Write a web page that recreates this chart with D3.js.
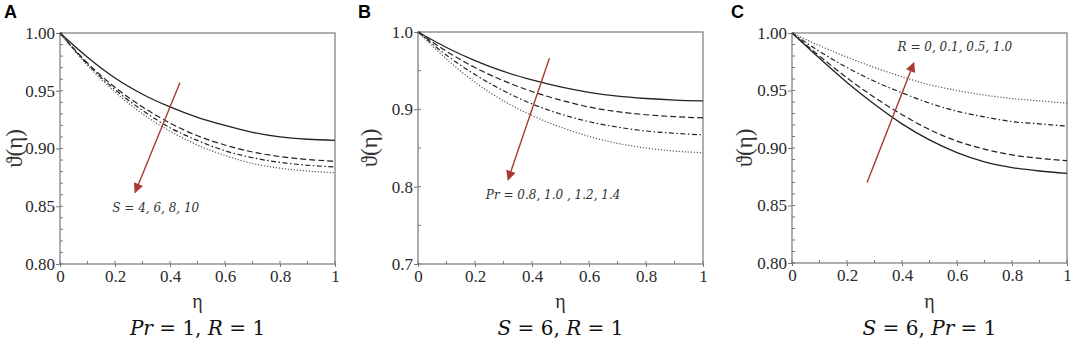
<!DOCTYPE html>
<html>
<head>
<meta charset="utf-8">
<script src="https://cdn.jsdelivr.net/npm/d3@7"></script>
<style>
  body { margin: 0; background: #fff; }
  svg { display: block; }
</style>
</head>
<body>
<svg id="chart" width="1072" height="340"></svg>
<script>
// eta grid shared by all panels
var eta = [0, 0.1, 0.2, 0.3, 0.4, 0.5, 0.6, 0.7, 0.8, 0.9, 1.0];

// panel A : S = 4, 6, 8, 10  (Pr = 1, R = 1)
var aS4  = [1, 0.979, 0.961, 0.947, 0.936, 0.927, 0.920, 0.914, 0.910, 0.908, 0.907];
var aS6  = [1, 0.974, 0.953, 0.936, 0.922, 0.911, 0.903, 0.897, 0.893, 0.8905, 0.889];
var aS8  = [1, 0.973, 0.951, 0.933, 0.918, 0.907, 0.898, 0.892, 0.888, 0.8855, 0.884];
var aS10 = [1, 0.972, 0.949, 0.930, 0.915, 0.903, 0.894, 0.887, 0.883, 0.8805, 0.879];

// panel B : Pr = 0.8, 1.0, 1.2, 1.4  (S = 6, R = 1)
var bPr08 = [1, 0.980, 0.963, 0.949, 0.938, 0.929, 0.922, 0.917, 0.914, 0.912, 0.911];
var bPr10 = [1, 0.975, 0.954, 0.937, 0.923, 0.912, 0.903, 0.897, 0.893, 0.8905, 0.889];
var bPr12 = [1, 0.970, 0.945, 0.924, 0.907, 0.894, 0.884, 0.877, 0.872, 0.869, 0.867];
var bPr14 = [1, 0.965, 0.935, 0.911, 0.892, 0.877, 0.865, 0.856, 0.850, 0.846, 0.844];

// panel C : R = 0, 0.1, 0.5, 1.0  (S = 6, Pr = 1)
var cR0  = [1, 0.978, 0.957, 0.938, 0.921, 0.907, 0.896, 0.888, 0.883, 0.880, 0.878];
var cR01 = [1, 0.980, 0.961, 0.944, 0.929, 0.916, 0.906, 0.899, 0.894, 0.891, 0.889];
var cR05 = [1, 0.984, 0.970, 0.958, 0.948, 0.939, 0.932, 0.927, 0.923, 0.921, 0.919];
var cR10 = [1, 0.989, 0.979, 0.970, 0.962, 0.955, 0.950, 0.946, 0.943, 0.941, 0.939];

var xTicks = [0, 0.2, 0.4, 0.6, 0.8, 1];
var dashes = [null, "6,3", "5,2.5,1.5,2.5", "1.2,1.8"];

var serif = "'Liberation Serif', 'Times New Roman', serif";

var panels = [
  { letter: "A", lx: 4, box: [60, 33, 335, 264], ylab: 14, yDomain: [0.8, 1.0],
    yTicks: [0.80, 0.85, 0.90, 0.95, 1.00], yMinor: 0.01, fmt: ".2f",
    series: [aS4, aS6, aS8, aS10],
    arrow: [[0.436, 0.957], [0.273, 0.862]],
    note: { x: 0.19, y: 0.849, text: "S = 4, 6, 8, 10" },
    sub: [["Pr", 1], [" = 1, ", 0], ["R", 1], [" = 1", 0]] },
  { letter: "B", lx: 358, box: [418, 32, 703, 264], ylab: 369, yDomain: [0.7, 1.0],
    yTicks: [0.7, 0.8, 0.9, 1.0], yMinor: 0.05, fmt: ".1f",
    series: [bPr08, bPr10, bPr12, bPr14],
    arrow: [[0.461, 0.966], [0.316, 0.809]],
    note: { x: 0.238, y: 0.790, text: "Pr = 0.8, 1.0 , 1.2, 1.4" },
    sub: [["S", 1], [" = 6, ", 0], ["R", 1], [" = 1", 0]] },
  { letter: "C", lx: 731, box: [792, 33, 1067, 263], ylab: 744, yDomain: [0.8, 1.0],
    yTicks: [0.80, 0.85, 0.90, 0.95, 1.00], yMinor: 0.01, fmt: ".2f",
    series: [cR0, cR01, cR05, cR10],
    arrow: [[0.273, 0.870], [0.443, 0.974]],
    note: { x: 0.384, y: 0.988, text: "R = 0, 0.1, 0.5, 1.0" },
    sub: [["S", 1], [" = 6, ", 0], ["Pr", 1], [" = 1", 0]] }
];

var svg = d3.select("#chart");
var arrowColor = "#a83a33";

svg.append("defs").append("marker")
  .attr("id", "head")
  .attr("viewBox", "0 0 10 10")
  .attr("refX", 9).attr("refY", 5)
  .attr("markerWidth", 8).attr("markerHeight", 7)
  .attr("markerUnits", "strokeWidth")
  .attr("orient", "auto")
  .append("path")
  .attr("d", "M0,0L10,5L0,10Z")
  .attr("fill", arrowColor);

panels.forEach(function (p) {
  var x = d3.scaleLinear().domain([0, 1]).range([p.box[0], p.box[2]]);
  var y = d3.scaleLinear().domain(p.yDomain).range([p.box[3], p.box[1]]);
  var g = svg.append("g");
  var cx = (p.box[0] + p.box[2]) / 2;

  // panel letter
  g.append("text")
    .attr("x", p.lx).attr("y", 18)
    .attr("font-family", "'Liberation Sans', Arial, sans-serif")
    .attr("font-weight", "bold")
    .attr("font-size", 18)
    .text(p.letter);

  // minor ticks
  var ym = d3.range(p.yDomain[0], p.yDomain[1] + 1e-9, p.yMinor);
  g.selectAll("line.ym").data(ym).enter().append("line")
    .attr("x1", p.box[0]).attr("x2", p.box[0] + 3)
    .attr("y1", function (d) { return y(d); }).attr("y2", function (d) { return y(d); })
    .attr("stroke", "#777").attr("stroke-width", 1);
  var xm = d3.range(0, 1.0001, 0.1);
  g.selectAll("line.xm").data(xm).enter().append("line")
    .attr("y1", p.box[3]).attr("y2", p.box[3] - 3)
    .attr("x1", function (d) { return x(d); }).attr("x2", function (d) { return x(d); })
    .attr("stroke", "#777").attr("stroke-width", 1);

  // axes
  var yAxis = d3.axisLeft(y).tickValues(p.yTicks).tickFormat(d3.format(p.fmt)).tickSize(4).tickPadding(1);
  var xAxis = d3.axisBottom(x).tickValues(xTicks)
    .tickFormat(function (d) { return d === 0 ? "0" : d === 1 ? "1" : d3.format(".1f")(d); })
    .tickSize(3).tickPadding(3);
  var ya = g.append("g").attr("transform", "translate(" + p.box[0] + ",0)").call(yAxis);
  var xa = g.append("g").attr("transform", "translate(0," + p.box[3] + ")").call(xAxis);
  [ya, xa].forEach(function (a) {
    a.attr("font-family", serif).attr("font-size", 17);
    a.select(".domain").remove();
    a.selectAll(".tick line").attr("stroke", "#777");
    a.selectAll(".tick text").attr("fill", "#2a2a2a");
  });

  // frame
  g.append("rect")
    .attr("x", p.box[0]).attr("y", p.box[1])
    .attr("width", p.box[2] - p.box[0]).attr("height", p.box[3] - p.box[1])
    .attr("fill", "none").attr("stroke", "#7a7a7a").attr("stroke-width", 1.2);

  // curves
  var line = d3.line()
    .x(function (d, i) { return x(eta[i]); })
    .y(function (d) { return y(d); })
    .curve(d3.curveMonotoneX);
  g.selectAll("path.curve").data(p.series).enter().append("path")
    .attr("class", "curve")
    .attr("d", line)
    .attr("fill", "none")
    .attr("stroke", function (d, i) { return i == 3 ? "#555" : "#222"; })
    .attr("stroke-width", function (d, i) { return i == 0 ? 1.3 : 1.2; })
    .attr("stroke-dasharray", function (d, i) { return dashes[i]; });

  // arrow
  g.append("line")
    .attr("x1", x(p.arrow[0][0])).attr("y1", y(p.arrow[0][1]))
    .attr("x2", x(p.arrow[1][0])).attr("y2", y(p.arrow[1][1]))
    .attr("stroke", arrowColor).attr("stroke-width", 1.4)
    .attr("marker-end", "url(#head)");

  g.append("text")
    .attr("x", x(p.note.x)).attr("y", y(p.note.y))
    .attr("dy", "0.35em")
    .attr("font-family", "'DejaVu Serif', serif")
    .attr("font-style", "italic")
    .attr("font-size", 12)
    .attr("fill", "#333")
    .text(p.note.text);

  // y label
  g.append("text")
    .attr("transform", "translate(" + p.ylab + "," + (p.box[1] + p.box[3]) / 2 + ") rotate(-90)")
    .attr("text-anchor", "middle")
    .attr("dy", "0.35em")
    .attr("font-family", serif)
    .attr("font-size", 23)
    .attr("fill", "#333")
    .text("ϑ(η)");

  // x label
  g.append("text")
    .attr("x", cx).attr("y", 308)
    .attr("text-anchor", "middle")
    .attr("font-family", serif)
    .attr("font-size", 20)
    .attr("fill", "#333")
    .text("η");

  // subtitle
  var st = g.append("text")
    .attr("x", cx).attr("y", 335)
    .attr("text-anchor", "middle")
    .attr("font-family", "'DejaVu Serif', serif")
    .attr("font-size", 20)
    .attr("fill", "#111");
  p.sub.forEach(function (s) {
    st.append("tspan").attr("font-style", s[1] ? "italic" : "normal").text(s[0]);
  });
});
</script>
</body>
</html>
